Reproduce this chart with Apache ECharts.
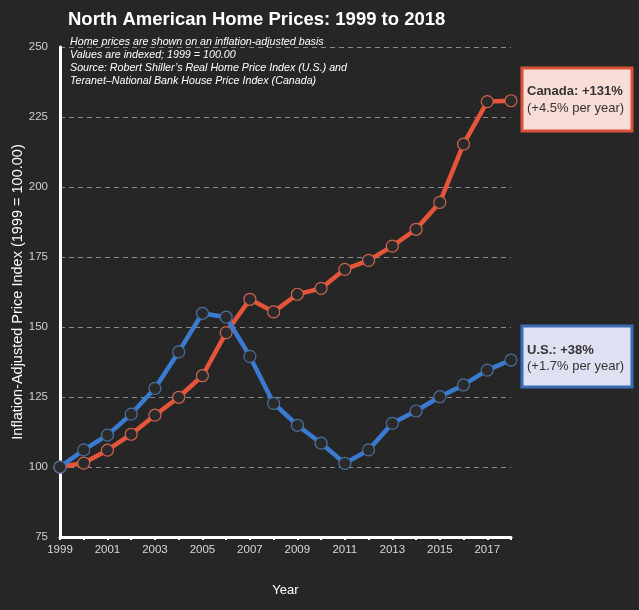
<!DOCTYPE html>
<html><head><meta charset="utf-8">
<script src="https://cdn.jsdelivr.net/npm/echarts@6/dist/echarts.min.js"></script>
<style>html,body{margin:0;padding:0;background:#262626}#c{width:639px;height:610px}</style>
</head><body><div id="c"></div>
<script>
var years = ['1999','2000','2001','2002','2003','2004','2005','2006','2007','2008','2009','2010','2011','2012','2013','2014','2015','2016','2017','2018'];
var usValues = [100,106.1,111.4,118.9,128.1,141.1,154.9,153.5,139.5,122.7,114.9,108.5,101.3,106.1,115.6,120,125.1,129.3,134.6,138.2];
var canadaValues = [100,101.4,106,111.7,118.5,124.9,132.6,148,159.9,155.4,161.7,163.8,170.6,173.8,178.9,184.9,194.5,215.3,230.5,230.8];
var yTicks = [75,100,125,150,175,200,225,250];
var subtitleLines = ['Home prices are shown on an inflation-adjusted basis','Values are indexed; 1999 = 100.00','Source: Robert Shiller\u2019s Real Home Price Index (U.S.) and','Teranet\u2013National Bank House Price Index (Canada)'];

var chart = echarts.init(document.getElementById('c'));
var ff = 'Liberation Sans, Arial, sans-serif';
chart.setOption({
  backgroundColor: '#262626',
  animation: false,
  grid: {left: 60, right: 128, top: 47, bottom: 73, containLabel: false, outerBoundsMode: 'none'},
  xAxis: {
    type: 'category', data: years, boundaryGap: false,
    name: 'Year', nameLocation: 'middle', nameGap: 47, nameMoveOverlap: false,
    nameTextStyle: {color: '#ffffff', fontSize: 13, fontFamily: ff},
    axisLine: {lineStyle: {color: '#ffffff', width: 3}},
    axisTick: {show: true, interval: 0, length: 3, lineStyle: {color: '#ffffff', width: 2}},
    axisLabel: {interval: 1, color: '#d8d8d8', fontSize: 11.5, fontFamily: ff, margin: 7},
    splitLine: {show: false}
  },
  yAxis: {
    type: 'value', min: yTicks[0], max: yTicks[yTicks.length-1], interval: 25,
    name: 'Inflation-Adjusted Price Index (1999 = 100.00)', nameLocation: 'middle', nameGap: 35, nameMoveOverlap: false,
    nameTextStyle: {color: '#ffffff', fontSize: 14.5, fontFamily: ff},
    axisLine: {show: true, lineStyle: {color: '#ffffff', width: 3}},
    axisTick: {show: false},
    axisLabel: {color: '#d0d0d0', fontSize: 11.5, fontFamily: ff, margin: 12},
    splitLine: {show: true, lineStyle: {color: '#8a8a8a', type: [5, 4], width: 1}}
  },
  series: [
    {name: 'Canada', type: 'line', data: canadaValues, symbol: 'circle', symbolSize: 12,
     lineStyle: {color: '#e6553a', width: 4.5}, itemStyle: {color: '#2a2a2a', borderColor: '#d0644c', borderWidth: 1.2}, z: 3},
    {name: 'U.S.', type: 'line', data: usValues, symbol: 'circle', symbolSize: 12,
     lineStyle: {color: '#3a7ad0', width: 4.5}, itemStyle: {color: '#2a2a2a', borderColor: '#4a6f9e', borderWidth: 1.2}, z: 4}
  ],
  graphic: [
    {type: 'text', x: 68, y: 20, style: {text: 'North American Home Prices: 1999 to 2018', fill: '#ffffff', font: 'bold 18.5px ' + ff, verticalAlign: 'middle'}},
    {type: 'text', x: 70, y: 36, style: {text: subtitleLines.join('\n'), fill: '#ffffff', font: 'italic 10.7px ' + ff, lineHeight: 12.8}},
    {type: 'rect', shape: {x: 522, y: 68, width: 110, height: 63}, style: {fill: '#f8dcd6', stroke: '#d9533a', lineWidth: 3}},
    {type: 'text', x: 527, y: 91, style: {text: 'Canada: +131%', fill: '#333333', font: 'bold 13px ' + ff, verticalAlign: 'middle'}},
    {type: 'text', x: 527, y: 108, style: {text: '(+4.5% per year)', fill: '#333333', font: '13px ' + ff, verticalAlign: 'middle'}},
    {type: 'rect', shape: {x: 522, y: 326, width: 110, height: 61}, style: {fill: '#dfe0f2', stroke: '#3a6cb5', lineWidth: 3}},
    {type: 'text', x: 527, y: 350, style: {text: 'U.S.: +38%', fill: '#333333', font: 'bold 13px ' + ff, verticalAlign: 'middle'}},
    {type: 'text', x: 527, y: 366, style: {text: '(+1.7% per year)', fill: '#333333', font: '13px ' + ff, verticalAlign: 'middle'}}
  ]
});
</script></body></html>
